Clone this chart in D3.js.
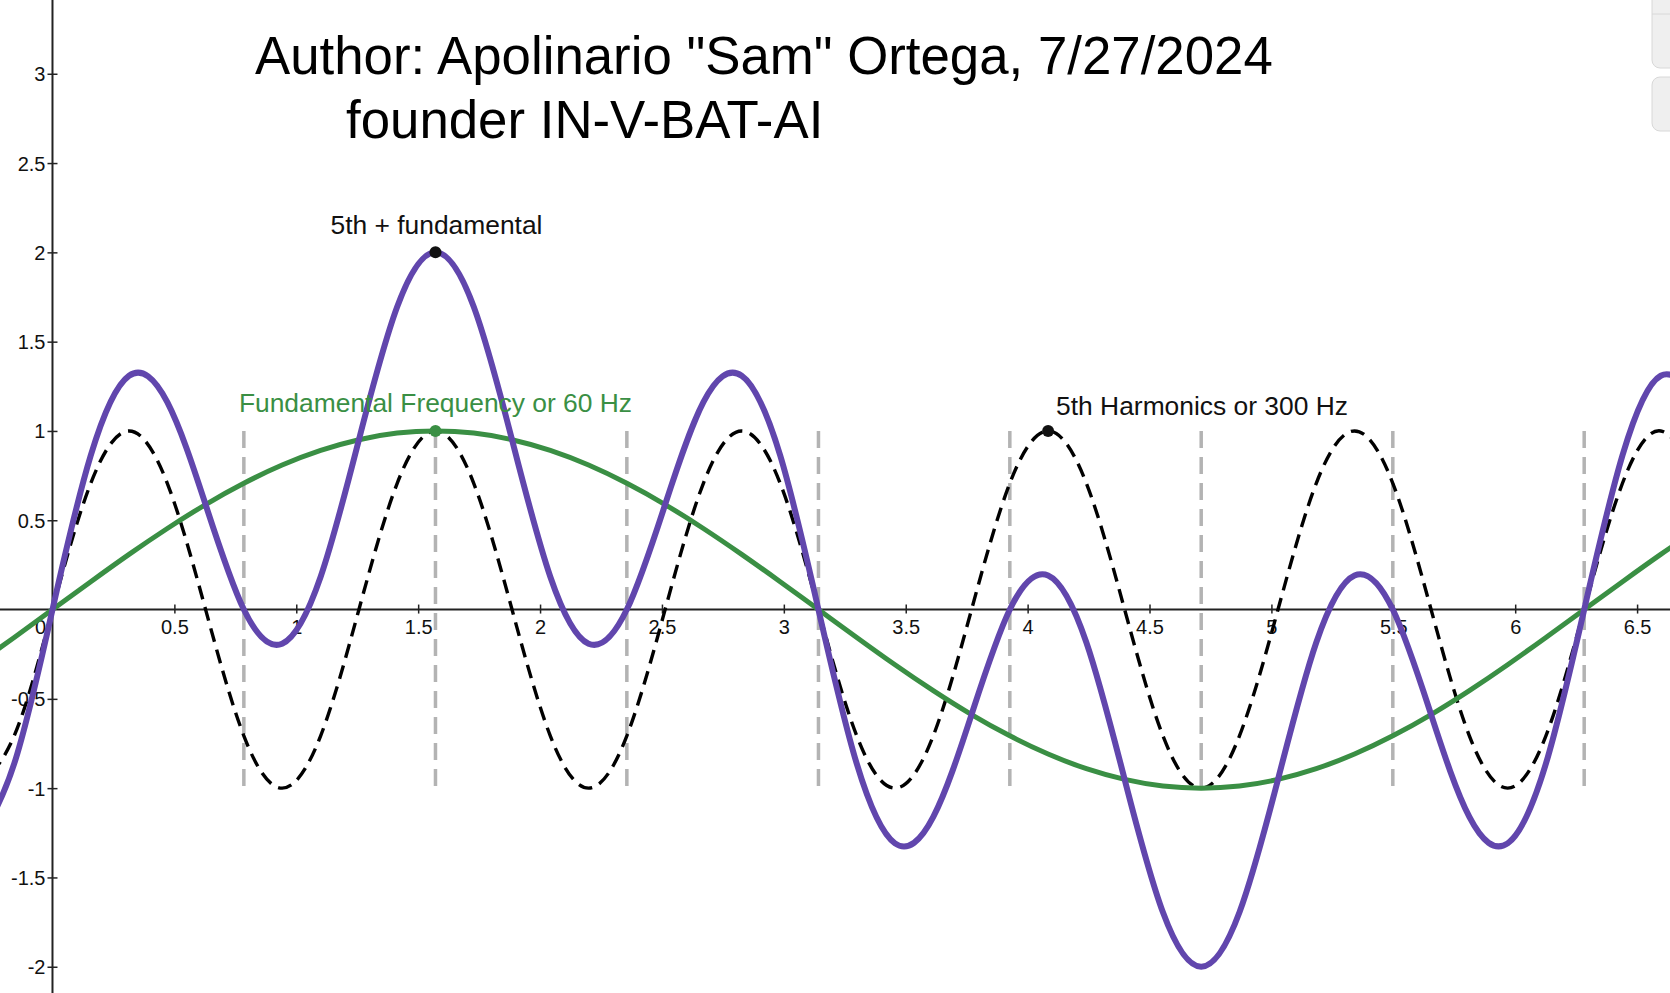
<!DOCTYPE html>
<html lang="en">
<head>
<meta charset="utf-8">
<title>5th harmonic + fundamental</title>
<script src="https://cdn.jsdelivr.net/npm/d3@7"></script>
<style>
  html, body { margin: 0; padding: 0; background: #fff; }
  #chart { width: 1670px; height: 993px; }
  text { font-family: "Liberation Sans", Arial, sans-serif; }
</style>
</head>
<body>
<div id="chart"></div>
<script>
// sample positions (x in radians, every pi/20)
const xs = [-0.314, -0.157, 0, 0.157, 0.314, 0.471, 0.628, 0.785, 0.942, 1.100,
  1.257, 1.414, 1.571, 1.728, 1.885, 2.042, 2.199, 2.356, 2.513, 2.670,
  2.827, 2.985, 3.142, 3.299, 3.456, 3.613, 3.770, 3.927, 4.084, 4.241,
  4.398, 4.555, 4.712, 4.869, 5.027, 5.184, 5.341, 5.498, 5.655, 5.812,
  5.969, 6.126, 6.283, 6.440, 6.597, 6.754];

// fundamental (60 Hz), green
const fundamental = [-0.309, -0.156, 0, 0.156, 0.309, 0.454, 0.588, 0.707, 0.809, 0.891,
  0.951, 0.988, 1, 0.988, 0.951, 0.891, 0.809, 0.707, 0.588, 0.454,
  0.309, 0.156, 0, -0.156, -0.309, -0.454, -0.588, -0.707, -0.809, -0.891,
  -0.951, -0.988, -1, -0.988, -0.951, -0.891, -0.809, -0.707, -0.588, -0.454,
  -0.309, -0.156, 0, 0.156, 0.309, 0.454];

// 5th harmonic (300 Hz), black dashed
const harmonic5 = [-1, -0.707, 0, 0.707, 1, 0.707, 0, -0.707, -1, -0.707,
  0, 0.707, 1, 0.707, 0, -0.707, -1, -0.707, 0, 0.707,
  1, 0.707, 0, -0.707, -1, -0.707, 0, 0.707, 1, 0.707,
  0, -0.707, -1, -0.707, 0, 0.707, 1, 0.707, 0, -0.707,
  -1, -0.707, 0, 0.707, 1, 0.707];

// 5th + fundamental, purple
const combined = [-1.309, -0.863, 0, 0.863, 1.309, 1.161, 0.588, 0, -0.191, 0.184,
  0.951, 1.695, 2, 1.695, 0.951, 0.184, -0.191, 0, 0.588, 1.161,
  1.309, 0.863, 0, -0.863, -1.309, -1.161, -0.588, 0, 0.191, -0.184,
  -0.951, -1.695, -2, -1.695, -0.951, -0.184, 0.191, 0, -0.588, -1.161,
  -1.309, -0.863, 0, 0.863, 1.309, 1.161];

// dashed guides at multiples of pi/4
const guideX = [0.785, 1.571, 2.356, 3.142, 3.927, 4.712, 5.498, 6.283];

const xTicks = [0.5, 1, 1.5, 2, 2.5, 3, 3.5, 4, 4.5, 5, 5.5, 6, 6.5];
const yTicks = [-2, -1.5, -1, -0.5, 0.5, 1, 1.5, 2, 2.5, 3];

const points = [
  { x: 1.571, y: 2, color: "#111", label: "5th + fundamental", dx: 1, dy: -18, anchor: "middle" },
  { x: 1.571, y: 1, color: "#3a8f44", label: "Fundamental Frequency or 60 Hz", dx: 0, dy: -19, anchor: "middle" },
  { x: 4.084, y: 1, color: "#111", label: "5th Harmonics or 300 Hz", dx: 8, dy: -16, anchor: "start" }
];

const width = 1670;
const height = 993;

const x = d3.scaleLinear().domain([-0.2153, 6.635]).range([0, width]);
const y = d3.scaleLinear().domain([-2.147, 3.413]).range([height, 0]);

const svg = d3.select("#chart").append("svg")
  .attr("width", width)
  .attr("height", height);

// axes (GeoGebra style: ticks cross the axis line)
const xAxis = svg.append("g")
  .attr("transform", `translate(0,${y(0)})`)
  .call(d3.axisBottom(x).tickValues(xTicks).tickFormat(d => d).tickSizeOuter(0));
xAxis.select(".domain").remove();
xAxis.selectAll(".tick line").attr("y1", -5).attr("y2", 4).attr("stroke", "#222").attr("stroke-width", 1.5);
xAxis.selectAll(".tick text").attr("y", 24).attr("dy", 0)
  .attr("font-size", 20).attr("font-family", "Liberation Sans, Arial, sans-serif").attr("fill", "#111");

const yAxis = svg.append("g")
  .attr("transform", `translate(${x(0)},0)`)
  .call(d3.axisLeft(y).tickValues(yTicks).tickFormat(d => d).tickSizeOuter(0));
yAxis.select(".domain").remove();
yAxis.selectAll(".tick line").attr("x1", -5).attr("x2", 5).attr("stroke", "#222").attr("stroke-width", 1.5);
yAxis.selectAll(".tick text").attr("x", -7).attr("dy", "0.35em")
  .attr("font-size", 20).attr("font-family", "Liberation Sans, Arial, sans-serif").attr("fill", "#111");

svg.append("line")
  .attr("x1", 0).attr("x2", width)
  .attr("y1", y(0)).attr("y2", y(0))
  .attr("stroke", "#222").attr("stroke-width", 2);
svg.append("line")
  .attr("x1", x(0)).attr("x2", x(0))
  .attr("y1", 0).attr("y2", height)
  .attr("stroke", "#222").attr("stroke-width", 2);

svg.append("text")
  .attr("x", x(0) - 12).attr("y", y(0) + 24)
  .attr("text-anchor", "middle")
  .attr("font-size", 20).attr("fill", "#111")
  .text("0");

// gray dashed guides
svg.append("g").selectAll("line")
  .data(guideX)
  .join("line")
  .attr("x1", d => x(d)).attr("x2", d => x(d))
  .attr("y1", y(1)).attr("y2", y(-1))
  .attr("stroke", "#b3b3b3")
  .attr("stroke-width", 3.5)
  .attr("stroke-dasharray", "17,9");

const line = d3.line()
  .x((d, i) => x(xs[i]))
  .y(d => y(d))
  .curve(d3.curveNatural);

svg.append("path")
  .attr("d", line(harmonic5))
  .attr("fill", "none")
  .attr("stroke", "#000")
  .attr("stroke-width", 3.4)
  .attr("stroke-dasharray", "14,8");

svg.append("path")
  .attr("d", line(fundamental))
  .attr("fill", "none")
  .attr("stroke", "#3a8f44")
  .attr("stroke-width", 5);

svg.append("path")
  .attr("d", line(combined))
  .attr("fill", "none")
  .attr("stroke", "#6146ad")
  .attr("stroke-width", 6);

// labelled points
svg.append("g").selectAll("circle")
  .data(points)
  .join("circle")
  .attr("cx", d => x(d.x)).attr("cy", d => y(d.y))
  .attr("r", 6)
  .attr("fill", d => d.color);

svg.append("g").selectAll("text")
  .data(points)
  .join("text")
  .attr("x", d => x(d.x) + d.dx).attr("y", d => y(d.y) + d.dy)
  .attr("text-anchor", d => d.anchor)
  .attr("font-size", 26.4)
  .attr("fill", d => d.color)
  .text(d => d.label);

// title
svg.append("text")
  .attr("x", 255).attr("y", 74)
  .attr("font-size", 52.8).attr("fill", "#000")
  .text('Author: Apolinario "Sam" Ortega, 7/27/2024');
svg.append("text")
  .attr("x", 346).attr("y", 138)
  .attr("font-size", 52.8).attr("fill", "#000")
  .text("founder IN-V-BAT-AI");

// bits of the app toolbar peeking in at the top right
const ui = svg.append("g");
ui.append("rect").attr("x", 1652).attr("y", -12).attr("width", 40).attr("height", 80).attr("rx", 8)
  .attr("fill", "#efefef").attr("stroke", "#d8d8d8");
ui.append("line").attr("x1", 1652).attr("x2", 1670).attr("y1", 14).attr("y2", 14).attr("stroke", "#d8d8d8");
ui.append("rect").attr("x", 1652).attr("y", 77).attr("width", 40).attr("height", 54).attr("rx", 8)
  .attr("fill", "#efefef").attr("stroke", "#d8d8d8");
</script>
</body>
</html>
